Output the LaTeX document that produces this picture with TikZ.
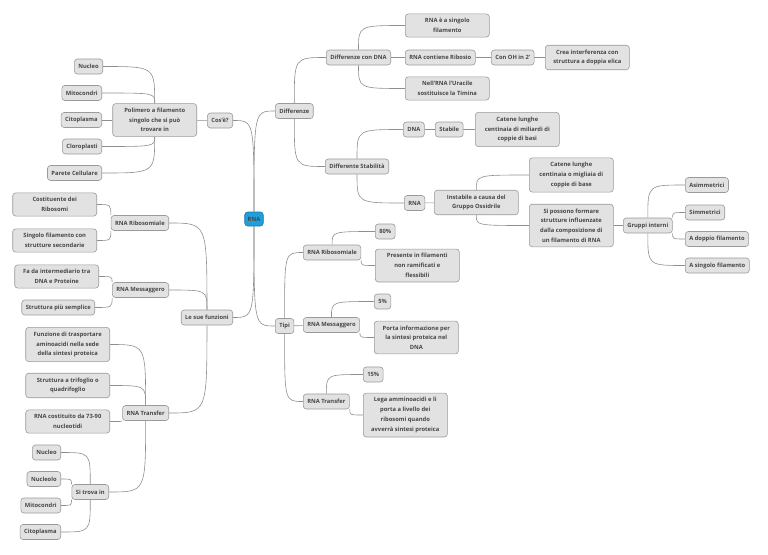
\documentclass[tikz,border=0pt]{standalone}
\usepackage{fontspec}
\setmainfont{Open Sans}
\usetikzlibrary{backgrounds}

\definecolor{boxfill}{HTML}{E2E2E2}
\definecolor{boxline}{HTML}{9A9A9A}
\definecolor{boxtext}{HTML}{474747}
\definecolor{linkgray}{HTML}{8E8E8E}
\definecolor{rnablue}{HTML}{1FA0DC}
\definecolor{rnaline}{HTML}{1B78A8}

\tikzset{
  topic/.style={draw=boxline, fill=boxfill, rounded corners=3pt, line width=0.6pt,
    text=boxtext, font=\fontsize{5.8}{9.7}\selectfont\bfseries,
    inner xsep=4pt, inner ysep=3pt, minimum height=15pt, align=center},
  note/.style={topic, minimum width=84pt, inner ysep=4.5pt},
  root/.style={topic, fill=rnablue, draw=rnaline, inner xsep=3pt, minimum height=14pt},
  link/.style={draw=linkgray, line width=0.6pt},
  branch/.style={to path={.. controls (\tikztostart |- \tikztotarget)
      and (\tikztostart |- \tikztotarget) .. (\tikztotarget)}}
}

\begin{document}
\begin{tikzpicture}[x=1pt,y=-1pt]
  \useasboundingbox (0,0) rectangle (768,554);

  \node[root] (rna) at (254,219) {RNA};

  % Cos'e?
  \node[topic,anchor=east] (cose) at (233,120.5) {Cos'è?};
  \node[note,anchor=east] (poli) at (197,120) {Polimero a filamento\\singolo che si può\\trovare in};
  \node[topic,anchor=east] (nucleoA) at (103,66.5) {Nucleo};
  \node[topic,anchor=east] (mitoA) at (102,93) {Mitocondri};
  \node[topic,anchor=east] (citoA) at (102,120) {Citoplasma};
  \node[topic,anchor=east] (cloro) at (102,146.5) {Cloroplasti};
  \node[topic,anchor=east] (parete) at (102,173) {Parete Cellulare};

  % Le sue funzioni
  \node[topic,anchor=east] (funz) at (233,317.5) {Le sue funzioni};
  \node[topic,anchor=east] (fribo) at (169,223) {RNA Ribosomiale};
  \node[note,anchor=east] (costit) at (97,204.5) {Costituente dei\\Ribosomi};
  \node[note,anchor=east] (singfil) at (97,240.5) {Singolo filamento con\\strutture secondarie};
  \node[topic,anchor=east] (fmess) at (169,290) {RNA Messaggero};
  \node[note,anchor=east] (inter) at (99,276.5) {Fa da intermediario tra\\DNA e Proteine};
  \node[topic,anchor=east] (semplice) at (95,307.5) {Struttura più semplice};
  \node[topic,anchor=east] (ftrans) at (169,413) {RNA Transfer};
  \node[note,anchor=east] (trasp) at (110,344.5) {Funzione di trasportare\\aminoacidi nella sede\\della sintesi proteica};
  \node[note,anchor=east] (trif) at (110,385.5) {Struttura a trifoglio o\\quadrifoglio};
  \node[note,anchor=east] (costnucl) at (110,421.5) {RNA costituito da 73-90\\nucleotidi};
  \node[topic,anchor=east] (trova) at (109,492) {Si trova in};
  \node[topic,anchor=east] (nucleoB) at (61,452.5) {Nucleo};
  \node[topic,anchor=east] (nucleolo) at (61,479) {Nucleolo};
  \node[topic,anchor=east] (mitoB) at (61,505.5) {Mitocondri};
  \node[topic,anchor=east] (citoB) at (61,532) {Citoplasma};

  % Differenze
  \node[topic,anchor=west] (diff) at (275,111) {Differenze};
  \node[topic,anchor=west] (diffdna) at (326,57.5) {Differenze con DNA};
  \node[note,anchor=west] (singolo) at (405,25.5) {RNA è a singolo\\filamento};
  \node[topic,anchor=west] (ribosio) at (405,57.5) {RNA contiene Ribosio};
  \node[topic,anchor=west] (oh) at (491,57.5) {Con OH in 2'};
  \node[note,anchor=west] (elica) at (545,57.5) {Crea interferenza con\\struttura a doppia elica};
  \node[note,anchor=west] (uracile) at (405,88.5) {Nell'RNA l'Uracile\\sostituisce la Timina};
  \node[topic,anchor=west] (stab) at (325,166.5) {Differente Stabilità};
  \node[topic,anchor=west] (dna) at (403,129.5) {DNA};
  \node[topic,anchor=west] (stabile) at (435,129.5) {Stabile};
  \node[note,anchor=west] (miliardi) at (475,129.5) {Catene lunghe\\centinaia di miliardi di\\coppie di basi};
  \node[topic,anchor=west] (rnaB) at (404,203) {RNA};
  \node[note,anchor=west] (instab) at (434,202.5) {Instabile a causa del\\Gruppo Ossidrile};
  \node[note,anchor=west] (migliaia) at (529,175) {Catene lunghe\\centinaia o migliaia di\\coppie di base};
  \node[note,anchor=west] (strutt) at (529,225.5) {Si possono formare\\strutture influenzate\\dalla composizione di\\un filamento di RNA};
  \node[topic,anchor=west] (gruppi) at (623,225.5) {Gruppi interni};
  \node[topic,anchor=west] (asim) at (685,185) {Asimmetrici};
  \node[topic,anchor=west] (simm) at (685,212.5) {Simmetrici};
  \node[topic,anchor=west] (doppio) at (685,239) {A doppio filamento};
  \node[topic,anchor=west] (singfilB) at (685,265.5) {A singolo filamento};

  % Tipi
  \node[topic,anchor=west] (tipi) at (275,326) {Tipi};
  \node[topic,anchor=west] (tribo) at (303,252.5) {RNA Ribosomiale};
  \node[topic,anchor=west] (pct80) at (375,231.5) {80\%};
  \node[note,anchor=west] (presente) at (375,265.5) {Presente in filamenti\\non ramificati e\\flessibili};
  \node[topic,anchor=west] (tmess) at (303,325) {RNA Messaggero};
  \node[topic,anchor=west] (pct5) at (374,301.5) {5\%};
  \node[note,anchor=west] (porta) at (374,337.5) {Porta informazione per\\la sintesi proteica nel\\DNA};
  \node[topic,anchor=west] (ttrans) at (303,401.5) {RNA Transfer};
  \node[topic,anchor=west] (pct15) at (363,374.5) {15\%};
  \node[note,anchor=west] (lega) at (363,415) {Lega amminoacidi e li\\porta a livello dei\\ribosomi quando\\avverrà sintesi proteica};

  \begin{scope}[on background layer]
    \foreach \c in {cose,funz} \draw[link] (rna) to[branch] (\c.east);
    \foreach \c in {diff,tipi} \draw[link] (rna) to[branch] (\c.west);

    \draw[link] (cose) -- (poli);
    \foreach \c in {nucleoA,mitoA,cloro,parete} \draw[link] (poli) to[branch] (\c.east);
    \draw[link] (poli) -- (citoA);

    \foreach \c in {fribo,fmess,ftrans} \draw[link] (funz) to[branch] (\c.east);
    \draw[link] (fribo.north west) to[branch] (costit.east);
    \draw[link] (fribo.south west) to[branch] (singfil.east);
    \draw[link] (fmess.north west) to[branch] (inter.east);
    \draw[link] (fmess.south west) to[branch] (semplice.east);
    \foreach \c in {trasp,trif,trova} \draw[link] (ftrans) to[branch] (\c.east);
    \draw[link] (ftrans.south west) to[branch] (costnucl.east);
    \foreach \c in {nucleoB,citoB} \draw[link] (trova) to[branch] (\c.east);
    \draw[link] (trova.north west) to[branch] (nucleolo.east);
    \draw[link] (trova.south west) to[branch] (mitoB.east);

    \foreach \c in {diffdna,stab} \draw[link] (diff) to[branch] (\c.west);
    \foreach \c in {singolo,uracile} \draw[link] (diffdna) to[branch] (\c.west);
    \draw[link] (diffdna) -- (ribosio) -- (oh) -- (elica);
    \foreach \c in {dna,rnaB} \draw[link] (stab) to[branch] (\c.west);
    \draw[link] (dna) -- (stabile) -- (miliardi);
    \draw[link] (rnaB) -- (instab);
    \foreach \c in {migliaia,strutt} \draw[link] (instab) to[branch] (\c.west);
    \draw[link] (strutt) -- (gruppi);
    \foreach \c in {asim,singfilB} \draw[link] (gruppi) to[branch] (\c.west);
    \draw[link] (gruppi.north east) to[branch] (simm.west);
    \draw[link] (gruppi.south east) to[branch] (doppio.west);

    \foreach \c in {tribo,ttrans} \draw[link] (tipi) to[branch] (\c.west);
    \draw[link] (tipi) -- (tmess);
    \draw[link] (tribo) to[branch] (pct80.west);
    \draw[link] (tribo.south east) to[branch] (presente.west);
    \draw[link] (tmess) to[branch] (pct5.west);
    \draw[link] (tmess.south east) to[branch] (porta.west);
    \draw[link] (ttrans) to[branch] (pct15.west);
    \draw[link] (ttrans.south east) to[branch] (lega.west);
  \end{scope}
\end{tikzpicture}
\end{document}
